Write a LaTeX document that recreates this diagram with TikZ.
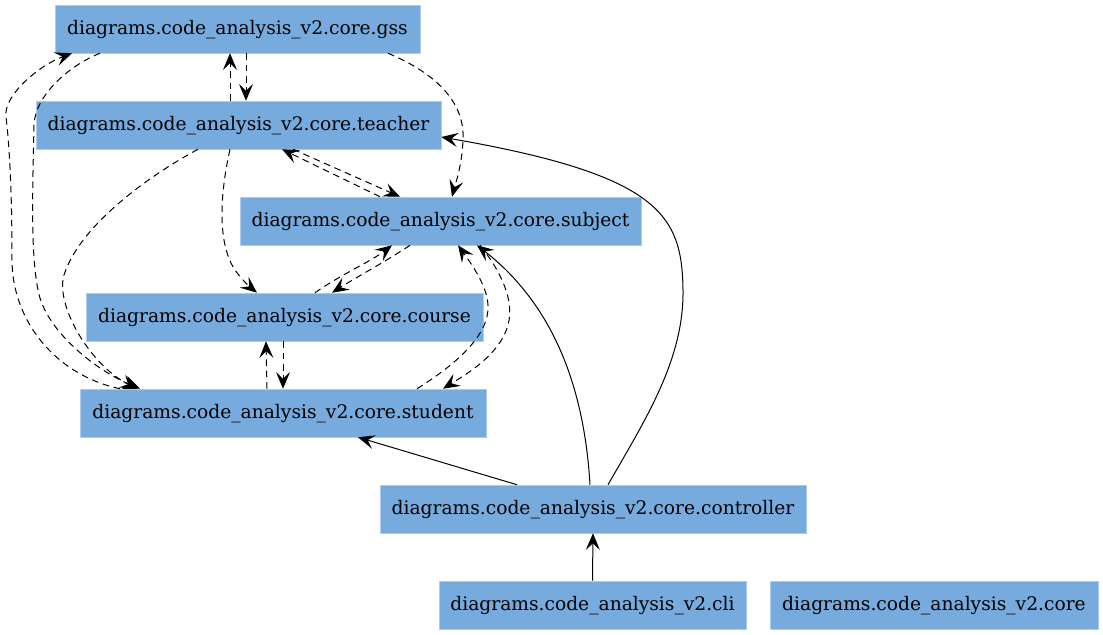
\documentclass[tikz,border=0pt]{standalone}
\usepackage{fontspec}
\setmainfont{DejaVu Serif}
\usetikzlibrary{arrows.meta,calc}
\definecolor{modfill}{RGB}{119,170,221}
\begin{document}
\begin{tikzpicture}[x=0.75pt,y=-0.75pt,
  module/.style={rectangle,fill=modfill,draw=modfill!60!white,line width=0.4pt,
    minimum height=36pt,inner sep=0pt,text height=10pt,text depth=2pt,
    font=\fontsize{14pt}{16.5pt}\selectfont},
  dep/.style={line width=0.75pt,-{Stealth[length=12.5pt,width=10.5pt,inset=5pt]}},
  weak/.style={dep,dash pattern=on 5pt off 3.5pt}]
\useasboundingbox (0,0) rectangle (1103,635);

% modules
\node[module,minimum width=273.75pt] (gss)        at (237.5,29)  {diagrams.code\_analysis\_v2.core.gss};
\node[module,minimum width=303.75pt] (teacher)    at (238.5,125) {diagrams.code\_analysis\_v2.core.teacher};
\node[module,minimum width=300.75pt] (subject)    at (440.5,221) {diagrams.code\_analysis\_v2.core.subject};
\node[module,minimum width=297.75pt] (course)     at (284.5,317) {diagrams.code\_analysis\_v2.core.course};
\node[module,minimum width=304.5pt]  (student)    at (283,413)   {diagrams.code\_analysis\_v2.core.student};
\node[module,minimum width=319.5pt]  (controller) at (593,509)   {diagrams.code\_analysis\_v2.core.controller};
\node[module,minimum width=230.25pt] (cli)        at (592.5,605) {diagrams.code\_analysis\_v2.cli};
\node[module,minimum width=246pt]    (core)       at (934,605)   {diagrams.code\_analysis\_v2.core};

% dashed dependencies
\draw[weak] ($(gss.south)+(8.5,0)$) -- ($(teacher.north)+(7.5,0)$);
\draw[weak] ($(teacher.north)+(-8.5,0)$) -- ($(gss.south)+(-7.5,0)$);
\draw[weak] ($(gss.south)+(150.5,0)$) .. controls (440,75) and (465,105) .. (463,140)
  .. controls (462,165) and (456,182) .. ($(subject.north)+(11.5,0)$);
\draw[weak] ($(teacher.south)+(54.5,0)$) -- ($(subject.north)+(-40.5,0)$);
\draw[weak] ($(subject.north)+(-60.5,0)$) -- ($(teacher.south)+(43.5,0)$);
\draw[weak] ($(teacher.south)+(-8.5,0)$) .. controls (222,185) and (215,240) .. (235,270)
  .. controls (242,280) and (250,287) .. ($(course.north)+(-27.5,0)$);
\draw[weak] ($(teacher.south)+(-40.5,0)$) .. controls (150,175) and (80,225) .. (64,275)
  .. controls (55,305) and (90,365) .. ($(student.north)+(-146,0)$);
\draw[weak] ($(student.north)+(-163,0)$) .. controls (55,375) and (12,320) .. (12,260)
  .. controls (12,200) and (10,150) .. (6,117)
  .. controls (3,95) and (40,65) .. ($(gss.south)+(-165.5,0)$);
\draw[weak] ($(gss.south)+(-137.5,0)$) .. controls (70,65) and (35,95) .. (34,125)
  .. controls (33,180) and (30,250) .. (38,290)
  .. controls (45,330) and (95,370) .. ($(student.north)+(-143,0)$);
\draw[weak] ($(course.north)+(30.5,0)$) .. controls (340,275) and (370,262) .. ($(subject.south)+(-48.5,0)$);
\draw[weak] ($(subject.south)+(-30.5,0)$) .. controls (385,262) and (355,278) .. ($(course.north)+(47.5,0)$);
\draw[weak] ($(student.north)+(-16,0)$) -- ($(course.south)+(-18.5,0)$);
\draw[weak] ($(course.south)+(-1.5,0)$) -- ($(student.north)+(0,0)$);
\draw[weak] ($(student.north)+(134,0)$) .. controls (455,365) and (490,335) .. (488,305)
  .. controls (487,285) and (470,262) .. ($(subject.south)+(17.5,0)$);
\draw[weak] ($(subject.south)+(39.5,0)$) .. controls (500,270) and (515,300) .. (508,325)
  .. controls (500,355) and (465,375) .. ($(student.north)+(160,0)$);

% solid dependencies
\draw[dep] ($(controller.north)+(-76,0)$) -- ($(student.south)+(75,0)$);
\draw[dep] ($(controller.north)+(-3,0)$) .. controls (585,400) and (560,310) .. ($(subject.south)+(36.5,0)$);
\draw[dep] ($(controller.north)+(15,0)$) .. controls (645,420) and (684,360) .. (683,290)
  .. controls (682,215) and (660,175) .. ($(teacher.east)+(0,12)$);
\draw[dep] (cli.north) -- (controller.south);
\end{tikzpicture}
\end{document}
